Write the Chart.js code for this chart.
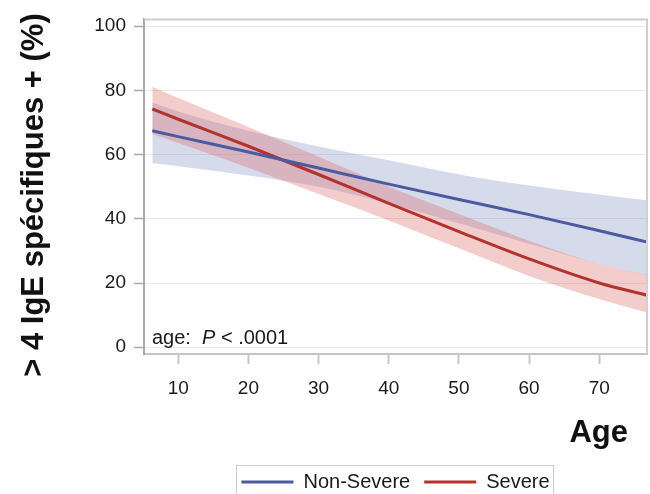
<!DOCTYPE html>
<html>
<head>
<meta charset="utf-8">
<script src="https://cdn.jsdelivr.net/npm/chart.js@4.4.1/dist/chart.umd.min.js"></script>
<style>
html,body{margin:0;padding:0;background:#fff;}
#wrap{width:650px;height:494px;position:relative;}
</style>
</head>
<body>
<div id="wrap"><canvas id="c"></canvas></div>
<script>
// ---- data ----
const ages         = [6.3, 10, 20, 30, 40, 50, 60, 70, 76.8];
const nonSevere    = [67.4, 65.6, 60.8, 55.8, 50.8, 46.0, 41.3, 36.3, 32.8];
const nonSevereHi  = [76.2, 73.4, 67.4, 62.5, 58.2, 53.8, 50.4, 47.6, 45.8];
const nonSevereLo  = [57.4, 56.4, 53.5, 50.0, 44.8, 38.6, 32.2, 26.0, 22.5];
const severe       = [74.2, 71.0, 62.6, 53.8, 44.8, 36.0, 27.5, 20.0, 16.2];
const severeHi     = [81.1, 77.6, 68.6, 59.3, 50.0, 41.5, 33.2, 26.0, 22.6];
const severeLo     = [66.4, 63.6, 55.9, 47.7, 39.5, 30.8, 22.2, 15.0, 10.8];
const xTicks = [10, 20, 30, 40, 50, 60, 70];
const yTicks = [0, 20, 40, 60, 80, 100];
const seriesNames = ['Non-Severe', 'Severe'];
const yTitle = '> 4 IgE spécifiques + (%)';
const xTitle = 'Age';

const pts = arr => ages.map((a, i) => ({x: a, y: arr[i]}));
const FONT = 'Arial, "Liberation Sans", Helvetica, sans-serif';

const deco = {
  id: 'deco',
  afterLayout(chart) {
    const L = chart.legend, a = chart.chartArea;
    if (L) {
      const h = L.height;
      L.left = a.left; L.right = a.right;
      L.top = 458; L.bottom = 458 + h;
    }
  },
  afterDatasetsDraw(chart) {
    const {ctx, chartArea: a} = chart;
    ctx.save();
    ctx.strokeStyle = '#cfcfcf';
    ctx.lineWidth = 2;
    ctx.beginPath();
    ctx.moveTo(a.left, a.top); ctx.lineTo(a.right, a.top); ctx.lineTo(a.right, a.bottom);
    ctx.stroke();
    ctx.restore();
  },
  afterDraw(chart) {
    const {ctx, chartArea: a} = chart;
    ctx.save();
    ctx.fillStyle = '#111';
    // y title
    ctx.save();
    ctx.translate(43, 195);
    ctx.rotate(-Math.PI / 2);
    ctx.font = 'bold 31px ' + FONT;
    ctx.textAlign = 'center';
    ctx.textBaseline = 'alphabetic';
    ctx.fillText(yTitle, 0, 0);
    ctx.restore();
    // x title
    ctx.font = 'bold 31px ' + FONT;
    ctx.textAlign = 'right';
    ctx.textBaseline = 'alphabetic';
    ctx.fillText(xTitle, 628, 442);
    // annotation
    ctx.fillStyle = '#1a1a1a';
    ctx.textAlign = 'left';
    let x = a.left + 8;
    const by = 344;
    ctx.font = '20px ' + FONT;
    const t1 = 'age:  ';
    ctx.fillText(t1, x, by); x += ctx.measureText(t1).width;
    ctx.font = 'italic 20px ' + FONT;
    ctx.fillText('P', x, by); x += ctx.measureText('P').width;
    ctx.font = '20px ' + FONT;
    ctx.fillText(' < .0001', x, by);
    // legend frame
    const L = chart.legend;
    if (L && L.lineWidths) {
      const pad = L.options.labels.padding;
      const start = ((L.left + pad) + L.right - L.lineWidths[0]) / 2;
      const end = start + L.lineWidths[0] - pad;
      ctx.strokeStyle = '#cccccc';
      ctx.lineWidth = 1;
      ctx.strokeRect(Math.round(start - 5) + 0.5, 465.5, Math.round(end - start + 9), 40);
    }
    ctx.restore();
  }
};

new Chart(document.getElementById('c'), {
  type: 'line',
  data: {
    datasets: [
      {label: seriesNames[0], data: pts(nonSevere), borderColor: '#4b5aa1', backgroundColor: '#4b5aa1',
       borderWidth: 3, pointRadius: 0, fill: false, cubicInterpolationMode: 'monotone', order: 0},
      {label: seriesNames[1], data: pts(severe), borderColor: '#b3322c', backgroundColor: '#b3322c',
       borderWidth: 3, pointRadius: 0, fill: false, cubicInterpolationMode: 'monotone', order: 1},
      {label: 'Severe upper', data: pts(severeHi), borderColor: 'transparent', borderWidth: 0,
       pointRadius: 0, fill: false, cubicInterpolationMode: 'monotone', order: 2},
      {label: 'Severe lower', data: pts(severeLo), borderColor: 'transparent', borderWidth: 0,
       backgroundColor: 'rgba(220,100,100,0.33)', pointRadius: 0, fill: '-1', cubicInterpolationMode: 'monotone', order: 3},
      {label: 'Non-Severe upper', data: pts(nonSevereHi), borderColor: 'transparent', borderWidth: 0,
       pointRadius: 0, fill: false, cubicInterpolationMode: 'monotone', order: 4},
      {label: 'Non-Severe lower', data: pts(nonSevereLo), borderColor: 'transparent', borderWidth: 0,
       backgroundColor: 'rgba(130,145,195,0.33)', pointRadius: 0, fill: '-1', cubicInterpolationMode: 'monotone', order: 5}
    ]
  },
  options: {
    responsive: true,
    maintainAspectRatio: false,
    animation: false,
    devicePixelRatio: 1,
    layout: {padding: {top: 13.5, right: 3, left: 0, bottom: 0}},
    scales: {
      x: {
        type: 'linear', min: 5.12, max: 76.8,
        afterBuildTicks: s => { s.ticks = xTicks.map(v => ({value: v})); },
        afterFit: s => { s.height = s.chart.height - 354 - (s.chart.legend ? s.chart.legend.height : 0); },
        ticks: {font: {size: 19, family: FONT}, color: '#1a1a1a', padding: 13, maxRotation: 0},
        grid: {drawOnChartArea: false, drawTicks: true, tickLength: 10, tickColor: '#c8c8c8', tickWidth: 2},
        border: {display: true, color: '#c4c4c4', width: 2}
      },
      y: {
        type: 'linear', min: -2.1, max: 102.1,
        afterBuildTicks: s => { s.ticks = yTicks.map(v => ({value: v})); },
        afterFit: s => { s.width = 144; },
        ticks: {font: {size: 19, family: FONT}, color: '#1a1a1a', padding: 8},
        grid: {color: '#e9e9e9', lineWidth: 1, drawTicks: true, tickLength: 10, tickColor: '#a8a8a8', tickWidth: 1.5},
        border: {display: true, color: '#aaaaaa', width: 2}
      }
    },
    plugins: {
      tooltip: {enabled: false},
      legend: {
        display: true,
        position: 'bottom',
        labels: {
          filter: item => item.datasetIndex < 2,
          usePointStyle: true,
          pointStyle: 'line',
          pointStyleWidth: 52,
          padding: 14,
          color: '#1a1a1a',
          font: {size: 20, family: FONT}
        }
      }
    }
  },
  plugins: [deco]
});
</script>
</body>
</html>
